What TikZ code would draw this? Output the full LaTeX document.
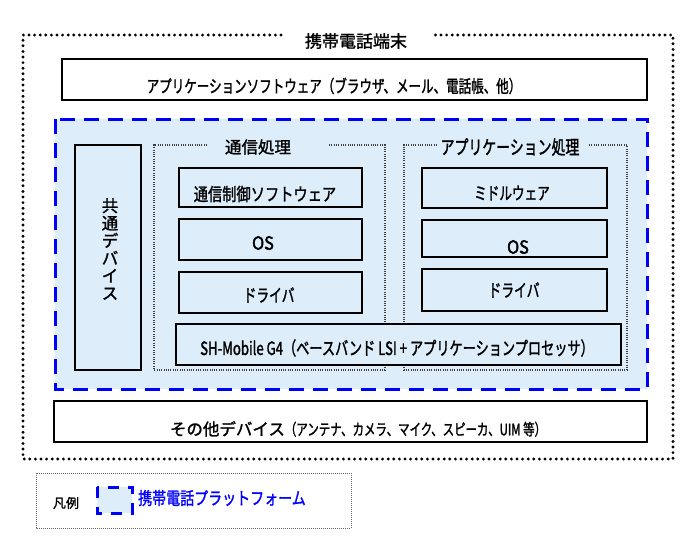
\documentclass[tikz,border=0pt]{standalone}
\usepackage{fontspec}
\setmainfont{Noto Sans CJK JP}[FakeBold=1.4]
\newfontfamily\jc{Noto Sans CJK JP}[FakeStretch=0.8,FakeBold=1.4]
\newfontfamily\jk{Noto Sans CJK JP}[FakeStretch=0.72,FakeBold=1.4]
\newfontfamily\jb{Noto Sans CJK JP}[FakeStretch=0.9,FakeBold=2.4]
\definecolor{pf}{RGB}{221,238,250}
\definecolor{pblue}{RGB}{0,0,255}
\newcommand{\fs}[1]{\fontsize{#1}{#1}\selectfont}
\begin{document}
\begin{tikzpicture}[x=1pt,y=-1pt,
  outerdots/.style={draw=black,line width=3.2pt,line cap=round,dash pattern=on 0pt off 5.6pt},
  innerdots/.style={draw=black!75,line width=1.2pt,dash pattern=on 1pt off 1.3pt},
  legenddots/.style={draw=black!60,line width=0.8pt,dash pattern=on 1pt off 1pt},
  blackbox/.style={draw=black,line width=1.8pt},
  bluedash/.style={draw=pblue,line width=3pt,dash pattern=on 15pt off 9pt},
  txt/.style={inner sep=0pt,text=black}]
\useasboundingbox (0,0) rectangle (700,550);
% outer frame
\draw[outerdots] (281,35) -- (23,35) -- (23,459) -- (673,459) -- (673,35) -- (433,35);
\node[txt,font=\fs{17}] (title) at (356,41) {携帯電話端末};
% application software
\draw[blackbox,fill=white] (62,59) rectangle (647,100);
\node[txt,font=\jk\fs{17.4}] (apptxt) at (334,86) {アプリケーションソフトウェア（ブラウザ、メール、電話帳、他）};
% platform
\draw[bluedash,fill=pf] (55,119) rectangle (647,389);
\draw[blackbox,fill=pf] (75,145) rectangle (141,370);
\node[txt,font=\fontsize{16.5}{17.5}\selectfont,align=center] (common) at (110,249) {共\\通\\デ\\バ\\イ\\ス};
% communication processing
\draw[innerdots] (207,145) -- (154,145) -- (154,370) -- (385,370) -- (385,145) -- (328,145);
\node[txt,font=\fs{16.5}] (comm) at (258,147) {通信処理};
\draw[innerdots] (437,145) -- (404,145) -- (404,370) -- (627,370) -- (627,145) -- (588,145);
\node[txt,font=\jk\fs{19.3}] (apl) at (510,147) {アプリケーション処理};
% left column
\draw[blackbox,fill=pf] (179,168) rectangle (362,207);
\node[txt,font=\jc\fs{17.8}] (ctl) at (265,194) {通信制御ソフトウェア};
\draw[blackbox,fill=pf] (179,219) rectangle (362,260);
\node[txt,font=\jb\fs{18}] (os1) at (263,243) {OS};
\draw[blackbox,fill=pf] (179,272) rectangle (362,313);
\node[txt,font=\jk\fs{17.8}] (drv1) at (269,295) {ドライバ};
% right column
\draw[blackbox,fill=pf] (422,168) rectangle (607,208);
\node[txt,font=\jk\fs{17.5}] (mid) at (512,193) {ミドルウェア};
\draw[blackbox,fill=pf] (422,220) rectangle (607,257);
\node[txt,font=\jb\fs{18}] (os2) at (518,247) {OS};
\draw[blackbox,fill=pf] (422,269) rectangle (607,311);
\node[txt,font=\jk\fs{17.8}] (drv2) at (514,290) {ドライバ};
% SH-Mobile
\draw[blackbox,fill=pf] (176,324) rectangle (621,365);
\node[txt,font=\jk\fs{18.3}] (sh) at (397,348) {SH-Mobile G4（ベースバンド LSI + アプリケーションプロセッサ）};
% other devices
\draw[blackbox,fill=white] (54,401) rectangle (647,442);
\node[txt] (other) at (358,429) {{\fs{16.5}その他デバイス}{\jk\fs{15.9}（アンテナ、カメラ、マイク、スピーカ、UIM 等）}};
% legend
\draw[legenddots] (36,473) rectangle (351,528);
\node[txt,font=\fs{13}] (hanrei) at (66,503) {凡例};
\draw[draw=pblue,line width=3pt,dash pattern=on 11pt off 9pt,fill=pf] (97,487) rectangle (132,513);
\node[txt,font=\jc\fs{17.5},text=pblue,anchor=west] (legtxt) at (138,498) {携帯電話プラットフォーム};
\end{tikzpicture}
\end{document}
